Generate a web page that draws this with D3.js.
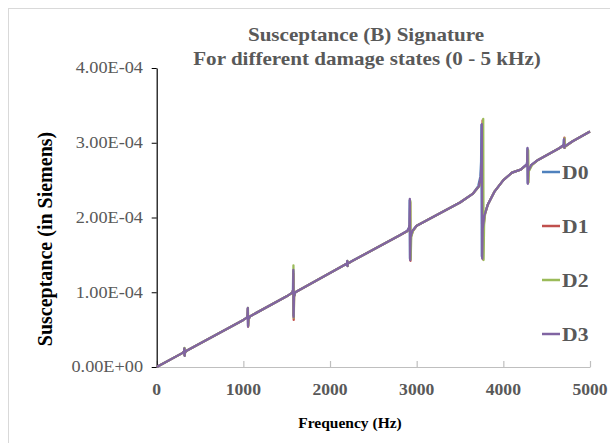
<!DOCTYPE html>
<html><head><meta charset="utf-8">
<script src="https://cdn.jsdelivr.net/npm/d3@7/dist/d3.min.js"></script>
<style>html,body{margin:0;padding:0;background:#fff;}svg{display:block;}</style>
</head><body>
<svg id="chart" width="610" height="443"></svg>
<script>
const seriesNames = ["D0", "D1", "D2", "D3"];
const seriesColors = ["#4F81BD", "#C0504D", "#9BBB59", "#8064A2"];
const xTicks = [0, 1000, 2000, 3000, 4000, 5000];
const yTicks = [0, 1e-4, 2e-4, 3e-4, 4e-4];
const yTickLabels = ["0.00E+00", "1.00E-04", "2.00E-04", "3.00E-04", "4.00E-04"];
const titleLines = ["Susceptance (B) Signature", "For different damage states (0 - 5 kHz)"];

const D0 = [[0,0],[300,1.89e-5],[316,2.1e-5],[319,2.45e-5],[322,1.55e-5],[326,1.95e-5],[345,2.17e-5],
[1000,6.3e-5],[1040,6.6e-5],[1048,6.9e-5],[1051,7.8e-5],[1054,5.5e-5],[1058,6.4e-5],[1080,6.8e-5],
[1500,9.45e-5],[1565,9.95e-5],[1572,1.03e-4],[1575,1.28e-4],[1578,6.9e-5],[1582,9.4e-5],[1600,1.0e-4],
[2150,1.355e-4],[2195,1.385e-4],[2199,1.41e-4],[2202,1.355e-4],[2206,1.385e-4],[2260,1.42e-4],
[2800,1.76e-4],[2890,1.82e-4],[2910,1.86e-4],[2916,1.9e-4],[2919,2.23e-4],[2922,1.45e-4],[2928,1.74e-4],[2950,1.82e-4],[3000,1.89e-4],
[3500,2.2e-4],[3650,2.32e-4],[3710,2.42e-4],[3735,2.55e-4],[3743,2.75e-4],[3747,3.24e-4],[3751,1.48e-4],[3757,1.85e-4],[3775,2.02e-4],[3820,2.17e-4],[3900,2.35e-4],[4000,2.5e-4],[4100,2.6e-4],
[4200,2.64e-4],[4270,2.71e-4],[4275,2.75e-4],[4278,2.92e-4],[4281,2.46e-4],[4285,2.62e-4],[4320,2.7e-4],[4400,2.77e-4],
[4650,2.93e-4],[4695,2.97e-4],[4698,3.04e-4],[4701,2.94e-4],[4706,2.95e-4],[4800,3.02e-4],[5000,3.15e-4]];

const D1 = [[0,0],[300,1.89e-5],[317,2.1e-5],[320,2.45e-5],[323,1.55e-5],[327,1.95e-5],[345,2.17e-5],
[1000,6.3e-5],[1041,6.6e-5],[1049,6.9e-5],[1052,7.8e-5],[1055,5.4e-5],[1059,6.4e-5],[1080,6.8e-5],
[1500,9.45e-5],[1566,9.95e-5],[1574,1.03e-4],[1577,1.25e-4],[1581,6.3e-5],[1585,9.4e-5],[1600,1.0e-4],
[2150,1.355e-4],[2196,1.385e-4],[2200,1.41e-4],[2203,1.355e-4],[2207,1.385e-4],[2260,1.42e-4],
[2800,1.76e-4],[2895,1.82e-4],[2915,1.86e-4],[2922,1.9e-4],[2925,2.2e-4],[2928,1.42e-4],[2934,1.74e-4],[2955,1.82e-4],[3000,1.89e-4],
[3500,2.2e-4],[3650,2.32e-4],[3720,2.42e-4],[3745,2.55e-4],[3756,2.75e-4],[3760,3.3e-4],[3764,1.44e-4],[3770,1.87e-4],[3785,2.03e-4],[3820,2.17e-4],[3900,2.35e-4],[4000,2.5e-4],[4100,2.6e-4],
[4200,2.64e-4],[4275,2.71e-4],[4280,2.75e-4],[4283,2.9e-4],[4286,2.47e-4],[4290,2.62e-4],[4325,2.7e-4],[4400,2.77e-4],
[4650,2.93e-4],[4702,2.97e-4],[4705,3.07e-4],[4708,2.93e-4],[4713,2.95e-4],[4800,3.02e-4],[5000,3.15e-4]];

const D2 = [[0,0],[300,1.89e-5],[318,2.1e-5],[321,2.55e-5],[324,1.5e-5],[328,1.95e-5],[345,2.17e-5],
[1000,6.3e-5],[1042,6.6e-5],[1050,6.9e-5],[1053,7.9e-5],[1056,5.5e-5],[1060,6.4e-5],[1080,6.8e-5],
[1500,9.45e-5],[1567,9.95e-5],[1575,1.03e-4],[1578,1.36e-4],[1582,6.6e-5],[1586,9.4e-5],[1600,1.0e-4],
[2150,1.355e-4],[2197,1.385e-4],[2201,1.42e-4],[2204,1.35e-4],[2208,1.385e-4],[2260,1.42e-4],
[2800,1.76e-4],[2895,1.82e-4],[2918,1.86e-4],[2925,1.9e-4],[2928,2.22e-4],[2931,1.44e-4],[2937,1.74e-4],[2958,1.82e-4],[3000,1.89e-4],
[3500,2.2e-4],[3650,2.32e-4],[3725,2.42e-4],[3750,2.55e-4],[3764,2.75e-4],[3768,3.32e-4],[3772,1.43e-4],[3778,1.9e-4],[3790,2.05e-4],[3820,2.17e-4],[3900,2.35e-4],[4000,2.5e-4],[4100,2.6e-4],
[4200,2.64e-4],[4278,2.71e-4],[4284,2.75e-4],[4287,2.9e-4],[4290,2.47e-4],[4294,2.62e-4],[4330,2.7e-4],[4400,2.77e-4],
[4650,2.93e-4],[4704,2.97e-4],[4707,3.06e-4],[4710,2.93e-4],[4715,2.95e-4],[4800,3.02e-4],[5000,3.15e-4]];

const D3 = [[0,0],[300,1.89e-5],[316,2.1e-5],[319,2.5e-5],[322,1.5e-5],[326,1.95e-5],[345,2.17e-5],
[1000,6.3e-5],[1040,6.6e-5],[1048,6.9e-5],[1051,7.9e-5],[1054,5.4e-5],[1058,6.4e-5],[1080,6.8e-5],
[1500,9.45e-5],[1565,9.95e-5],[1574,1.03e-4],[1577,1.3e-4],[1580,6.7e-5],[1584,9.4e-5],[1600,1.0e-4],
[2150,1.355e-4],[2195,1.385e-4],[2199,1.42e-4],[2202,1.35e-4],[2206,1.385e-4],[2260,1.42e-4],
[2800,1.76e-4],[2890,1.82e-4],[2910,1.86e-4],[2918,1.9e-4],[2921,2.25e-4],[2924,1.43e-4],[2930,1.74e-4],[2950,1.82e-4],[3000,1.89e-4],
[3500,2.2e-4],[3650,2.32e-4],[3720,2.42e-4],[3740,2.55e-4],[3748,2.75e-4],[3752,3.25e-4],[3756,1.45e-4],[3762,1.85e-4],[3780,2.02e-4],[3820,2.17e-4],[3900,2.35e-4],[4000,2.5e-4],[4100,2.6e-4],
[4200,2.64e-4],[4270,2.71e-4],[4276,2.75e-4],[4279,2.93e-4],[4282,2.45e-4],[4286,2.62e-4],[4320,2.7e-4],[4400,2.77e-4],
[4650,2.93e-4],[4697,2.97e-4],[4700,3.05e-4],[4703,2.93e-4],[4708,2.95e-4],[4800,3.02e-4],[5000,3.15e-4]];

const seriesData = [D0, D1, D2, D3];

const svg = d3.select("#chart");
const SX = 1.14;
const serif = "'Liberation Serif','Times New Roman',serif";

// outer frame
svg.append("rect").attr("x", 8.5).attr("y", 8.5).attr("width", 700).attr("height", 600)
  .attr("fill", "#fff").attr("stroke", "#d9d9d9").attr("stroke-width", 1);

const x = d3.scaleLinear().domain([0, 5000]).range([156.7, 590]);
const y = d3.scaleLinear().domain([0, 4e-4]).range([367, 68]);

function stext(px, py, txt, opts) {
  const t = svg.append("text")
    .attr("transform", `translate(${px},${py}) scale(${opts.sx || 1},1)`)
    .attr("text-anchor", opts.anchor || "middle")
    .attr("font-family", serif)
    .attr("font-size", opts.size)
    .attr("font-weight", opts.bold ? "bold" : "normal")
    .attr("fill", opts.color || "#595959")
    .text(txt);
  if (opts.dy) t.attr("dy", opts.dy);
  return t;
}

// title
stext(366, 41, titleLines[0], {size: 18.5, bold: true, sx: SX});
stext(367, 65, titleLines[1], {size: 18.5, bold: true, sx: SX});

// x axis (gray)
const xAxis = d3.axisBottom(x).tickValues(xTicks).tickSizeInner(-6).tickSizeOuter(0).tickFormat("");
const gx = svg.append("g").attr("transform", `translate(0,${y(0)})`).call(xAxis);
gx.select(".domain").attr("stroke", "#bfbfbf").attr("stroke-width", 1.2);
gx.selectAll(".tick line").attr("stroke", "#bfbfbf").attr("stroke-width", 1.2);
xTicks.forEach(v => stext(x(v), 395, String(v), {size: 16, bold: true, sx: 1.1}));

// y axis (black)
const yAxis = d3.axisLeft(y).tickValues(yTicks).tickSizeInner(5).tickSizeOuter(0).tickFormat("");
const gy = svg.append("g").attr("transform", `translate(${x(0)},0)`).call(yAxis);
gy.select(".domain").attr("stroke", "#000").attr("stroke-width", 1.2);
gy.selectAll(".tick line").attr("stroke", "#000").attr("stroke-width", 1);
yTicks.forEach((v, i) => stext(143, y(v), yTickLabels[i], {size: 16, sx: SX, anchor: "end", dy: "0.33em"}));

// axis titles
stext(350, 428, "Frequency (Hz)", {size: 15.5, bold: true, color: "#000"});
svg.append("text")
  .attr("transform", `translate(52,239) rotate(-90)`)
  .attr("text-anchor", "middle")
  .attr("font-family", serif).attr("font-size", 20).attr("font-weight", "bold")
  .attr("fill", "#000")
  .text("Susceptance (in Siemens)");

// series
const line = d3.line().x(d => x(d[0])).y(d => y(d[1]));
seriesData.forEach((data, i) => {
  svg.append("path").datum(data).attr("d", line)
    .attr("fill", "none").attr("stroke", seriesColors[i])
    .attr("stroke-width", 2.25).attr("stroke-linejoin", "round");
});

// legend
const legendY = [172, 226, 280, 334];
seriesNames.forEach((n, i) => {
  svg.append("line").attr("x1", 542).attr("x2", 560)
    .attr("y1", legendY[i]).attr("y2", legendY[i])
    .attr("stroke", seriesColors[i]).attr("stroke-width", 2.5);
  stext(562, legendY[i], n, {size: 19, bold: true, sx: SX, anchor: "start", dy: "0.35em"});
});
</script>
</body></html>
